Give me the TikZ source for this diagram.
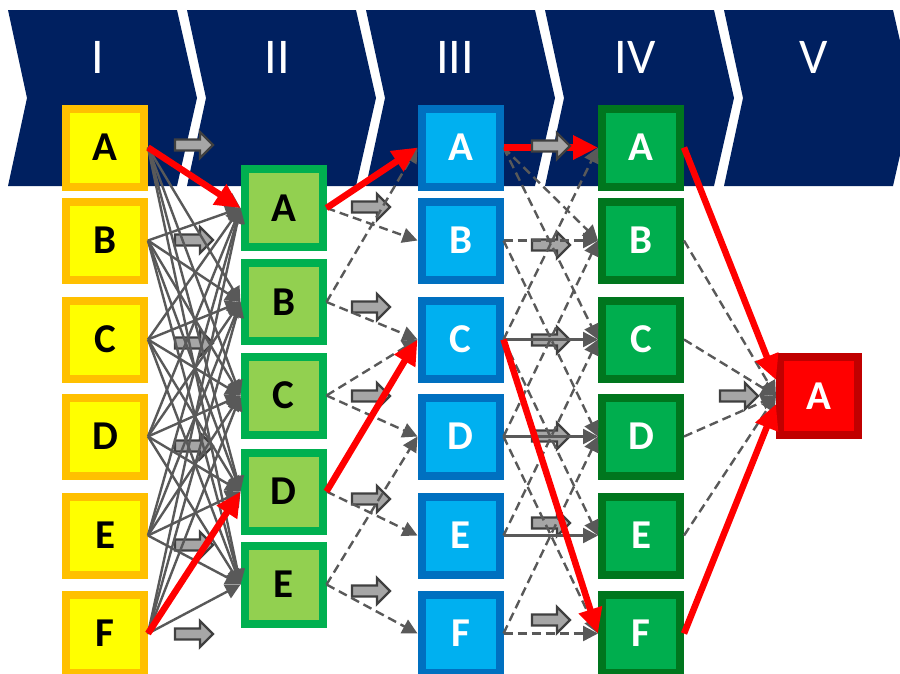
\documentclass[tikz,border=0pt]{standalone}
\usepackage{fontspec}
\setmainfont{Carlito}
\usetikzlibrary{arrows.meta}
\definecolor{navy}{HTML}{002060}
\definecolor{orB}{HTML}{FFC000}
\definecolor{yeF}{HTML}{FFFF00}
\definecolor{lgB}{HTML}{00B050}
\definecolor{lgF}{HTML}{92D050}
\definecolor{blB}{HTML}{0070C0}
\definecolor{blF}{HTML}{00B0F0}
\definecolor{dgB}{HTML}{00761E}
\definecolor{dgF}{HTML}{00AE4E}
\definecolor{rdB}{HTML}{C00000}
\definecolor{rdF}{HTML}{FF0000}
\definecolor{lnG}{HTML}{595959}
\definecolor{baF}{HTML}{A6A6A6}
\definecolor{baD}{HTML}{404040}
\tikzset{
  box/.style={minimum width=78pt, minimum height=78pt, line width=8pt, inner sep=0pt,
    font=\fontsize{41}{41}\bfseries\selectfont},
  colI/.style={box, draw=orB, fill=yeF, text=black},
  colII/.style={box, draw=lgB, fill=lgF, text=black},
  colIII/.style={box, draw=blB, fill=blF, text=white},
  colIV/.style={box, draw=dgB, fill=dgF, text=white},
  colV/.style={box, draw=rdB, fill=rdF, text=white},
  hdr/.style={text=white, font=\fontsize{50}{50}\selectfont, inner sep=0pt, anchor=base},
  gline/.style={draw=lnG, line width=2.4pt, -{Triangle[length=15pt,width=15pt]}},
  dline/.style={gline, dash pattern=on 9pt off 5pt},
  rline/.style={draw=rdF, line width=6.5pt, -{Triangle[length=25pt,width=23pt]}},
  chev/.style={fill=navy},
  barrow/.pic={\filldraw[fill=baF, draw=baD, line width=2.4pt, line join=miter]
     (0,-5.5) -- (25,-5.5) -- (25,-13) -- (38,0) -- (25,13) -- (25,5.5) -- (0,5.5) -- cycle;}
}
\begin{document}
\begin{tikzpicture}[x=1pt,y=-1pt]
\useasboundingbox (0,0) rectangle (900,673);
\clip (0,0) rectangle (900,673);
% header chevrons
\foreach \xo in {8,187,366,545,724}{
  \path[chev] (\xo,10) -- ++(169,0) -- ++(20,88) -- ++(-20,88) -- ++(-169,0) -- ++(19,-88) -- cycle;
}
\node[hdr] (h1) at (98,73) {I};
\node[hdr] (h2) at (277,73) {II};
\node[hdr] (h3) at (455,73) {III};
\node[hdr] (h4) at (635,73) {IV};
\node[hdr] (h5) at (814,73) {V};
% boxes
\node[colI] (aA) at (105,147.5) {A};
\node[colI] (aB) at (105,240.5) {B};
\node[colI] (aC) at (105,339.5) {C};
\node[colI] (aD) at (105,436.5) {D};
\node[colI] (aE) at (105,535.5) {E};
\node[colI] (aF) at (105,633.5) {F};
\node[colII] (bA) at (283.5,208) {A};
\node[colII] (bB) at (283.5,302) {B};
\node[colII] (bC) at (283.5,395.5) {C};
\node[colII] (bD) at (283.5,491.5) {D};
\node[colII] (bE) at (283.5,584.5) {E};
\node[colIII] (cA) at (460.5,147.5) {A};
\node[colIII] (cB) at (460.5,240.5) {B};
\node[colIII] (cC) at (460.5,339.5) {C};
\node[colIII] (cD) at (460.5,436.5) {D};
\node[colIII] (cE) at (460.5,535.5) {E};
\node[colIII] (cF) at (460.5,633.5) {F};
\node[colIV] (dA) at (641,147.5) {A};
\node[colIV] (dB) at (641,240.5) {B};
\node[colIV] (dC) at (641,339.5) {C};
\node[colIV] (dD) at (641,436.5) {D};
\node[colIV] (dE) at (641,535.5) {E};
\node[colIV] (dF) at (641,633.5) {F};
\node[colV] (eA) at (819,396) {A};
% block arrows
\foreach \yy in {145,240,343,446,545,634}{\pic at (175,\yy) {barrow};}
\foreach \yy in {207,307,396,499,591}{\pic at (352,\yy) {barrow};}
\foreach \yy in {245,340,436,523,620}{\pic at (532,\yy) {barrow};}
\pic at (720,396) {barrow};
% I -> II
\foreach \i in {A,B,C,D,E,F}{\foreach \j in {A,B,C,D,E}{\draw[gline] (a\i.east) -- (b\j.west);}}
% II -> III
\foreach \i/\j in {A/B,B/A,B/C,C/C,C/D,D/E,E/D,E/F}{\draw[dline] (b\i.east) -- (c\j.west);}
% III -> IV
\foreach \i/\j in {A/B,A/C,B/B,B/D,C/A,C/E,D/B,D/F,E/C,F/D,F/F}{\draw[dline] (c\i.east) -- (d\j.west);}
\foreach \i in {C,D,E}{\draw[gline] (c\i.east) -- (d\i.west);}
% IV -> V
\foreach \i in {B,C,D,E}{\draw[dline] (d\i.east) -- (eA.west);}
% red
\draw[rline] (cA.east) -- (dA.west);
\pic at (532,146) {barrow};
\draw[rline] (aA.east) -- (bA.west);
\draw[rline] (aF.east) -- (bD.west);
\draw[rline] (bA.east) -- (cA.west);
\draw[rline] (bD.east) -- (cC.west);
\draw[rline] (cC.east) -- (dF.west);
\draw[rline] (dA.east) -- ([yshift=16pt]eA.west);
\draw[rline] (dF.east) -- ([yshift=-8pt]eA.west);
\end{tikzpicture}
\end{document}
